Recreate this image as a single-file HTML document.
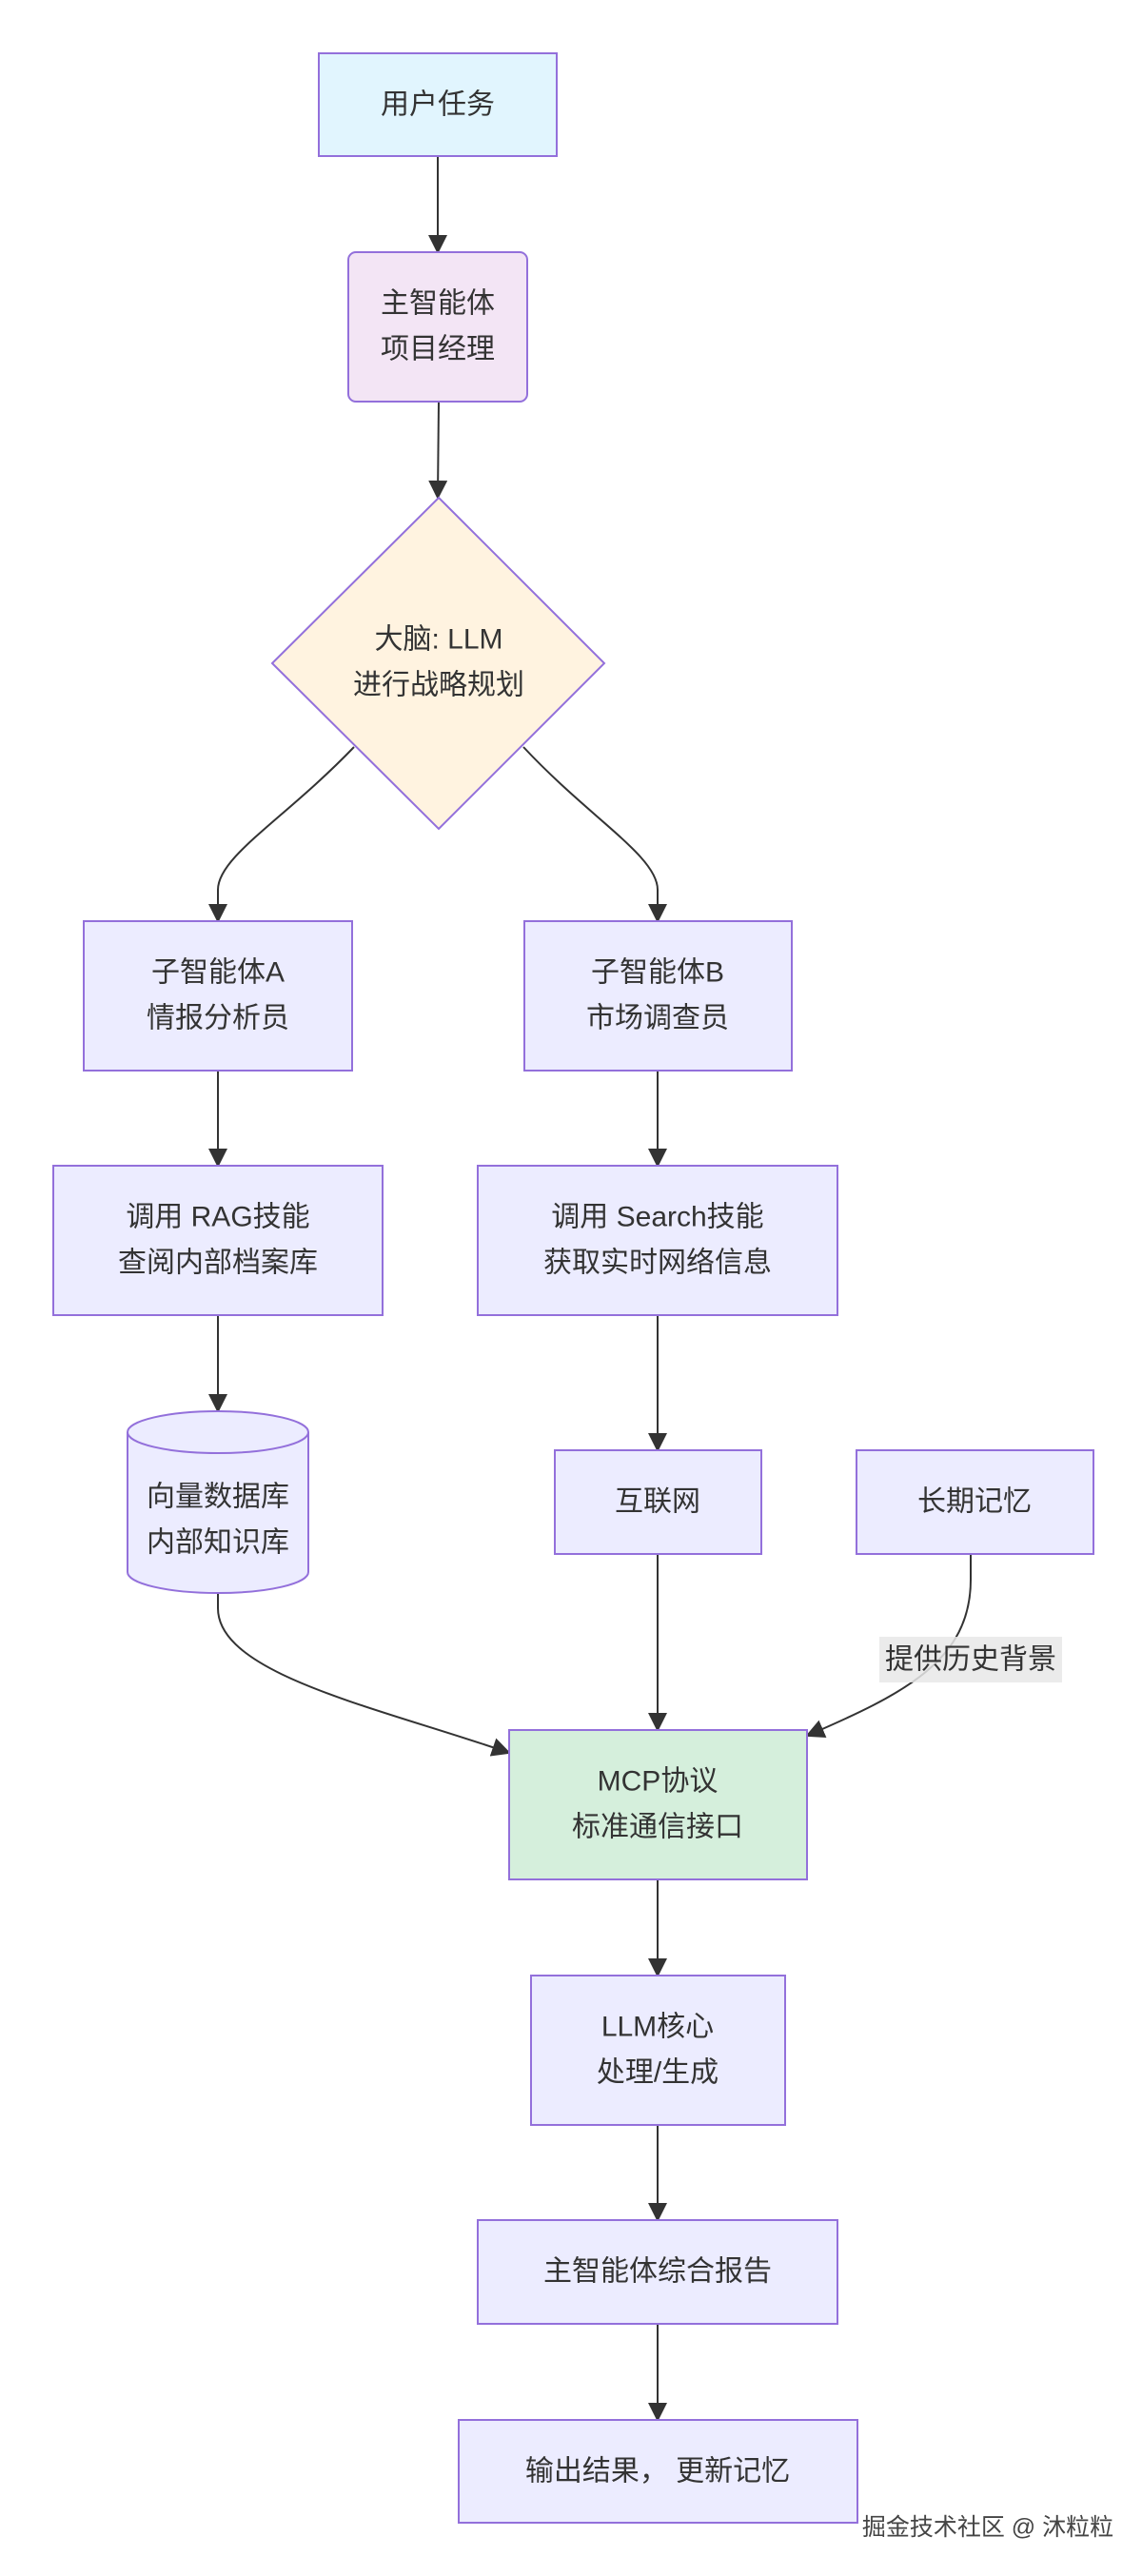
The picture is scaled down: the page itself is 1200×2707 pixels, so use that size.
<!DOCTYPE html>
<html><head><meta charset="utf-8"><style>
html,body{margin:0;padding:0;background:#fff;}
svg text{font-family:"Liberation Sans","Noto Sans CJK SC",sans-serif;font-size:30px;fill:#333;text-anchor:middle;dominant-baseline:central;}
</style></head><body>
<svg width="1200" height="2702" viewBox="0 0 1200 2702" xmlns="http://www.w3.org/2000/svg">
<defs><marker id="b" viewBox="0 0 10 10" refX="9" refY="5" markerWidth="20" markerHeight="20" markerUnits="userSpaceOnUse" orient="auto"><path d="M0,0 L10,5 L0,10 z" fill="#333"/></marker></defs>
<g fill="none" stroke="#333" stroke-width="2" marker-end="url(#b)">
<path d="M460,164 L460,265"/>
<path d="M461,422 L460,523"/>
<path d="M372,785 C300,860 229,900 229,935 L229,968"/>
<path d="M550,785 C620,860 691,900 691,935 L691,968"/>
<path d="M229,1125 L229,1225"/>
<path d="M691,1125 L691,1225"/>
<path d="M229,1382 L229,1483"/>
<path d="M691,1382 L691,1524"/>
<path d="M229,1674 L229,1690 C229,1760 400,1795 535,1842"/>
<path d="M691,1633 L691,1818"/>
<path d="M1020,1633 L1020,1660 C1020,1745 950,1780 848,1824"/>
<path d="M691,1975 L691,2076"/>
<path d="M691,2233 L691,2333"/>
<path d="M691,2442 L691,2543"/>
</g>
<g stroke="#9370db" stroke-width="2">
<rect x="335" y="56" width="250" height="108" fill="#e1f5fe"/>
<rect x="366" y="265" width="188" height="157" rx="8" fill="#f3e5f5"/>
<polygon points="461,523 635,697 461,871 286,697" fill="#fff3e0"/>
<rect x="88" y="968" width="282" height="157" fill="#ececff"/>
<rect x="551" y="968" width="281" height="157" fill="#ececff"/>
<rect x="56" y="1225" width="346" height="157" fill="#ececff"/>
<rect x="502" y="1225" width="378" height="157" fill="#ececff"/>
<path d="M134,1505 A95,22 0 0 1 324,1505 L324,1652 A95,22 0 0 1 134,1652 Z" fill="#ececff"/>
<path d="M134,1505 A95,22 0 0 0 324,1505" fill="none"/>
<rect x="583" y="1524" width="217" height="109" fill="#ececff"/>
<rect x="900" y="1524" width="249" height="109" fill="#ececff"/>
<rect x="535" y="1818" width="313" height="157" fill="#d5efdc"/>
<rect x="558" y="2076" width="267" height="157" fill="#ececff"/>
<rect x="502" y="2333" width="378" height="109" fill="#ececff"/>
<rect x="482" y="2543" width="419" height="108" fill="#ececff"/>
</g>
<rect x="924" y="1720" width="192" height="48" fill="#e8e8e8" opacity="0.85"/>
<text x="460" y="110">用户任务</text>
<text x="460" y="319">主智能体</text><text x="460" y="367">项目经理</text>
<text x="461" y="672">大脑: LLM</text><text x="461" y="720">进行战略规划</text>
<text x="229" y="1022">子智能体A</text><text x="229" y="1070">情报分析员</text>
<text x="691" y="1022">子智能体B</text><text x="691" y="1070">市场调查员</text>
<text x="229" y="1279">调用 RAG技能</text><text x="229" y="1327">查阅内部档案库</text>
<text x="691" y="1279">调用 Search技能</text><text x="691" y="1327">获取实时网络信息</text>
<text x="229" y="1573">向量数据库</text><text x="229" y="1621">内部知识库</text>
<text x="691" y="1578">互联网</text>
<text x="1024" y="1578">长期记忆</text>
<text x="1020" y="1744">提供历史背景</text>
<text x="691" y="1872">MCP协议</text><text x="691" y="1920">标准通信接口</text>
<text x="691" y="2130">LLM核心</text><text x="691" y="2178">处理/生成</text>
<text x="691" y="2387">主智能体综合报告</text>
<text x="691" y="2597">输出结果， 更新记忆</text>
<text x="1038" y="2656" style="font-size:25px;fill:#444;stroke:#fff;stroke-width:3;paint-order:stroke">掘金技术社区 @ 沐粒粒</text>
</svg>
</body></html>
